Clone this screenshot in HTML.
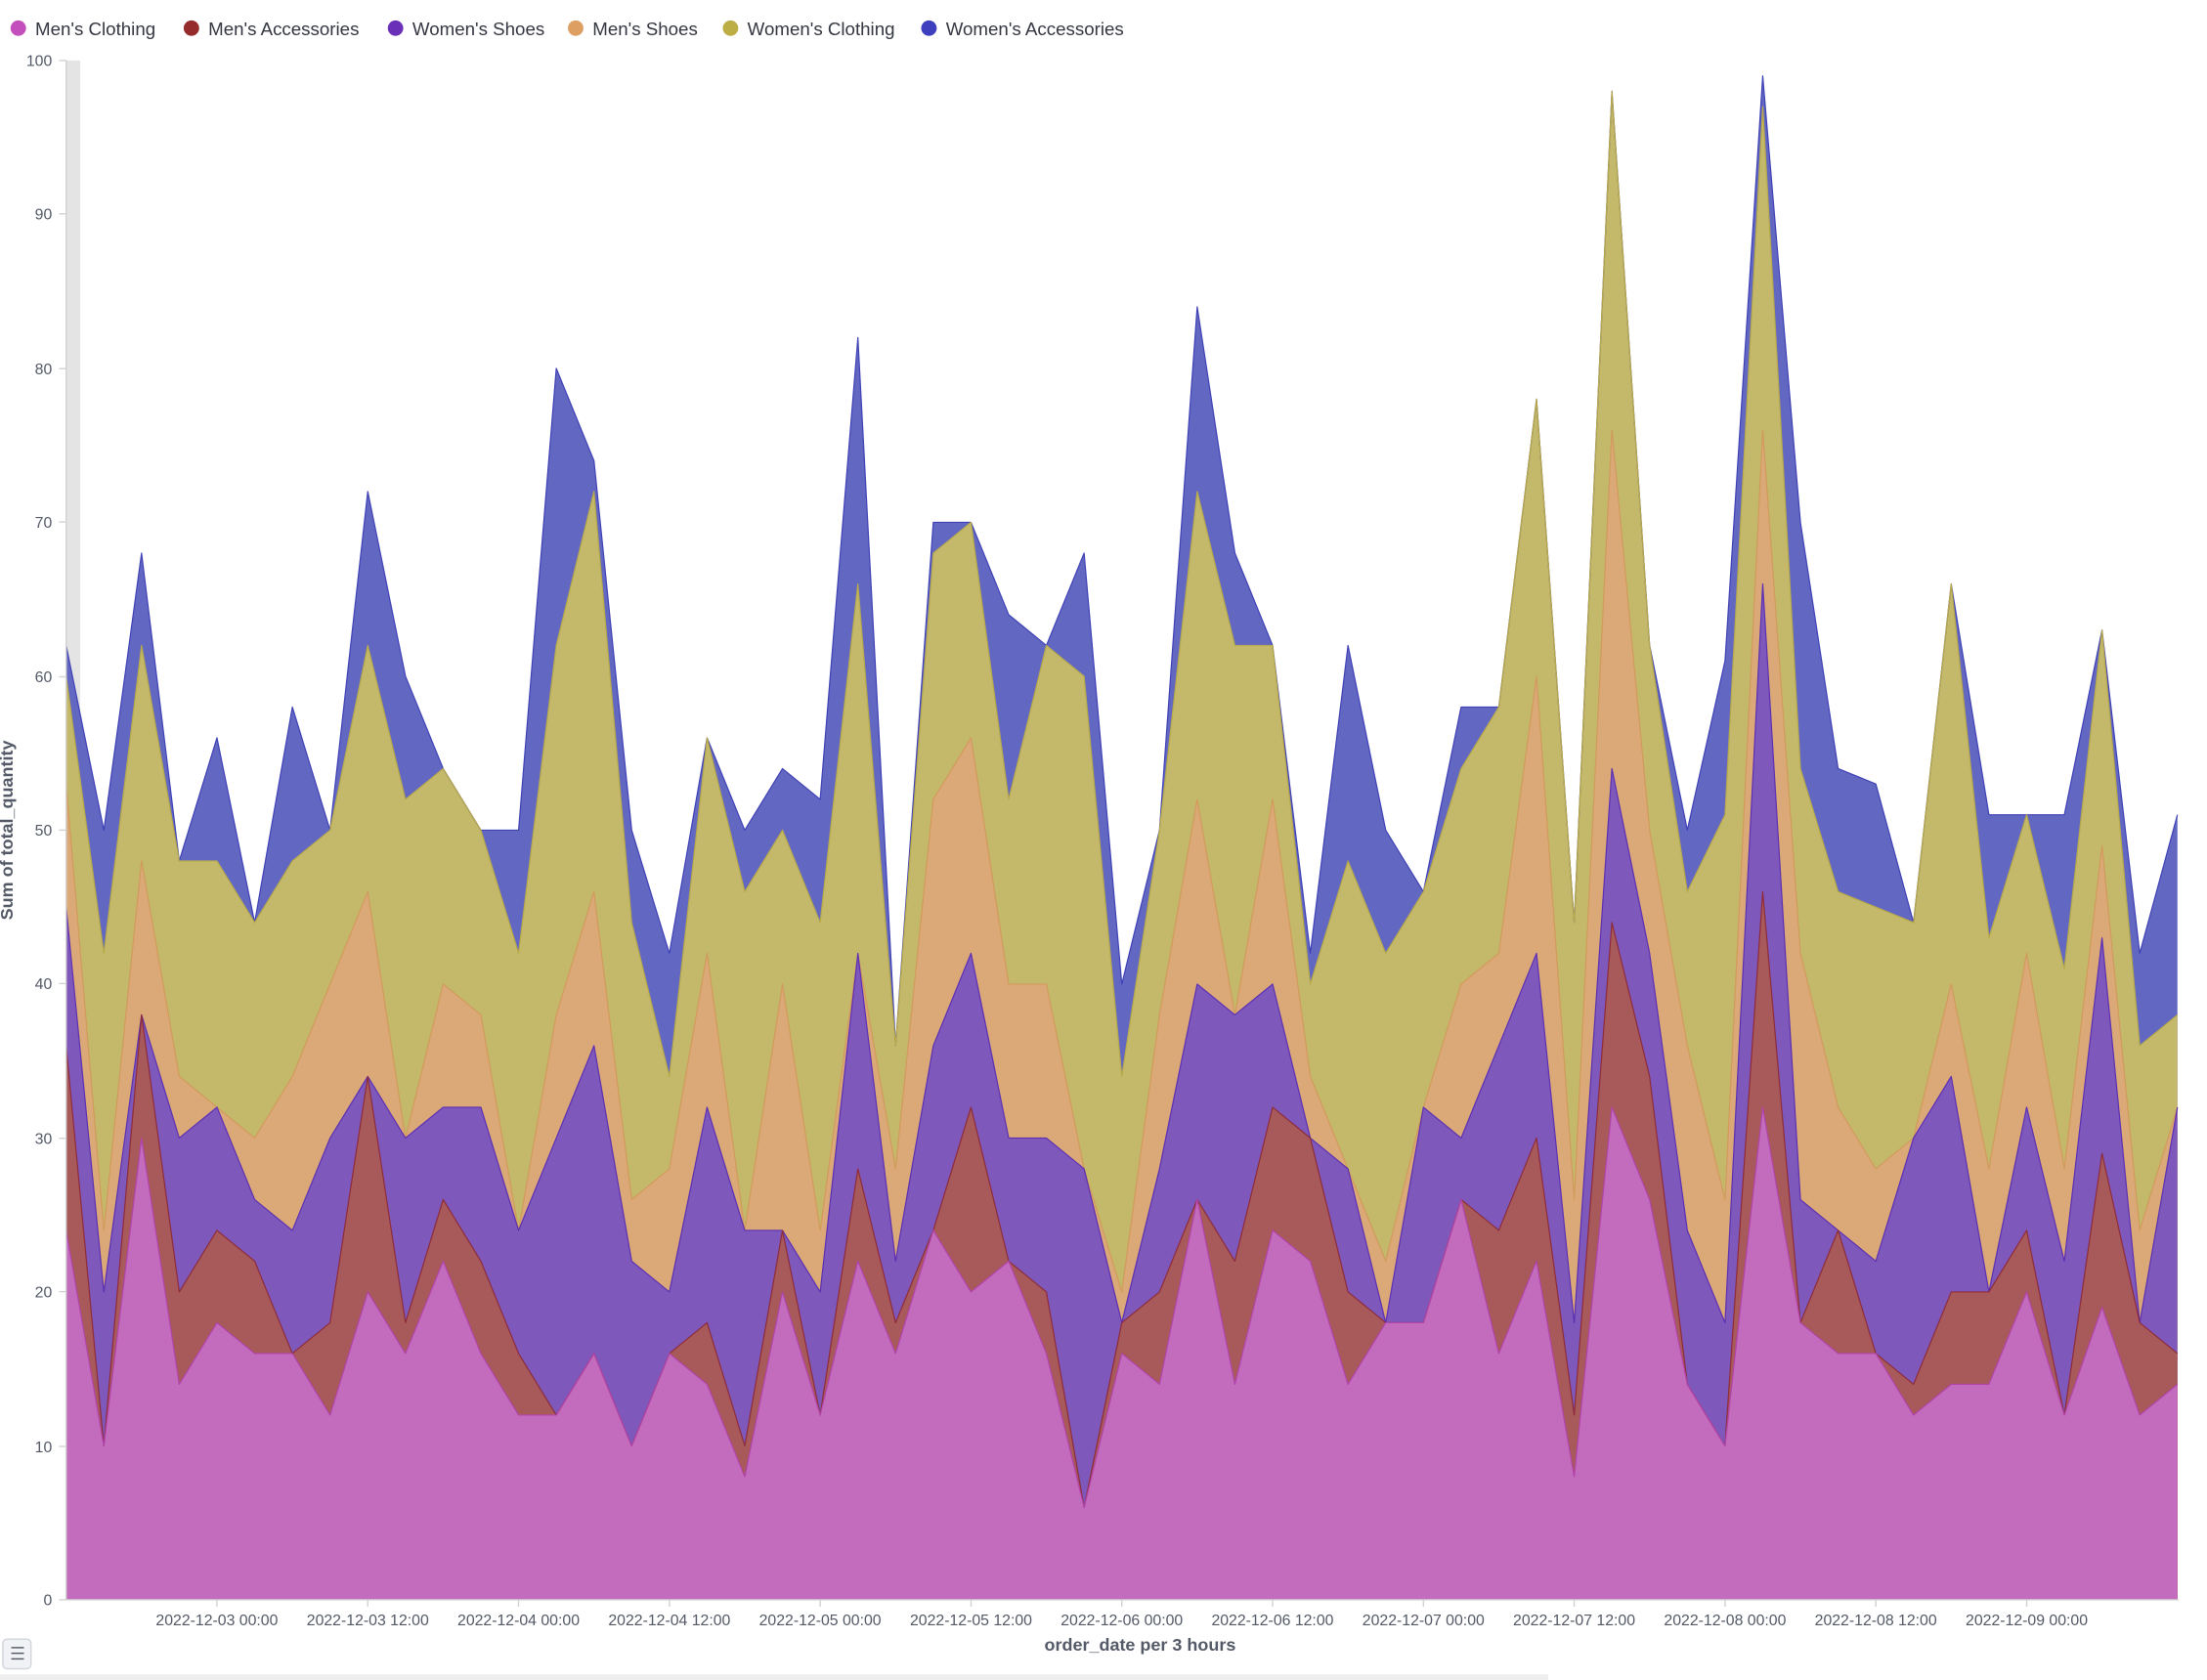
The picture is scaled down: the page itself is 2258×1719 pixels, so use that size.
<!DOCTYPE html>
<html><head><meta charset="utf-8">
<style>
html,body{margin:0;padding:0;background:#fff;}
svg{display:block;font-family:"Liberation Sans",sans-serif;}
</style></head>
<body>
<svg width="2258" height="1719" viewBox="0 0 1568 1194" preserveAspectRatio="none" xmlns="http://www.w3.org/2000/svg">
<rect width="1568" height="1194" fill="#fff"/>
<rect x="47" y="43" width="10" height="1094" fill="#e4e4e4"/>
<g transform="translate(47,1137) scale(26.7857,-10.94)">
<polygon fill="#6268c2" points="0,62 1,50 2,68 3,48 4,56 5,44 6,58 7,50 8,72 9,60 10,54 11,50 12,50 13,80 14,74 15,50 16,42 17,56 18,50 19,54 20,52 21,82 22,36 23,70 24,70 25,64 26,62 27,68 28,40 29,50 30,84 31,68 32,62 33,42 34,62 35,50 36,46 37,58 38,58 39,78 40,44 41,98 42,62 43,50 44,61 45,99 46,70 47,54 48,53 49,44 50,66 51,51 52,51 53,51 54,63 55,42 56,51 56,0 0,0"/>
<polygon fill="#c4b86a" points="0,60 1,42 2,62 3,48 4,48 5,44 6,48 7,50 8,62 9,52 10,54 11,50 12,42 13,62 14,72 15,44 16,34 17,56 18,46 19,50 20,44 21,66 22,36 23,68 24,70 25,52 26,62 27,60 28,34 29,50 30,72 31,62 32,62 33,40 34,48 35,42 36,46 37,54 38,58 39,78 40,44 41,98 42,62 43,46 44,51 45,97 46,54 47,46 48,45 49,44 50,66 51,43 52,51 53,41 54,63 55,36 56,38 56,0 0,0"/>
<polygon fill="#dba977" points="0,53 1,24 2,48 3,34 4,32 5,30 6,34 7,40 8,46 9,30 10,40 11,38 12,24 13,38 14,46 15,26 16,28 17,42 18,24 19,40 20,24 21,42 22,28 23,52 24,56 25,40 26,40 27,28 28,20 29,38 30,52 31,38 32,52 33,34 34,28 35,22 36,32 37,40 38,42 39,60 40,26 41,76 42,50 43,36 44,26 45,76 46,42 47,32 48,28 49,30 50,40 51,28 52,42 53,28 54,49 55,24 56,32 56,0 0,0"/>
<polygon fill="#7e58bb" points="0,45 1,20 2,38 3,30 4,32 5,26 6,24 7,30 8,34 9,30 10,32 11,32 12,24 13,30 14,36 15,22 16,20 17,32 18,24 19,24 20,20 21,42 22,22 23,36 24,42 25,30 26,30 27,28 28,18 29,28 30,40 31,38 32,40 33,30 34,28 35,18 36,32 37,30 38,36 39,42 40,18 41,54 42,42 43,24 44,18 45,66 46,26 47,24 48,22 49,30 50,34 51,20 52,32 53,22 54,43 55,18 56,32 56,0 0,0"/>
<polygon fill="#a8595a" points="0,36 1,10 2,38 3,20 4,24 5,22 6,16 7,18 8,34 9,18 10,26 11,22 12,16 13,12 14,16 15,10 16,16 17,18 18,10 19,24 20,12 21,28 22,18 23,24 24,32 25,22 26,20 27,6 28,18 29,20 30,26 31,22 32,32 33,30 34,20 35,18 36,18 37,26 38,24 39,30 40,12 41,44 42,34 43,14 44,10 45,46 46,18 47,24 48,16 49,14 50,20 51,20 52,24 53,12 54,29 55,18 56,16 56,0 0,0"/>
<polygon fill="#c36bbd" points="0,24 1,10 2,30 3,14 4,18 5,16 6,16 7,12 8,20 9,16 10,22 11,16 12,12 13,12 14,16 15,10 16,16 17,14 18,8 19,20 20,12 21,22 22,16 23,24 24,20 25,22 26,16 27,6 28,16 29,14 30,26 31,14 32,24 33,22 34,14 35,18 36,18 37,26 38,16 39,22 40,8 41,32 42,26 43,14 44,10 45,32 46,18 47,16 48,16 49,12 50,14 51,14 52,20 53,12 54,19 55,12 56,14 56,0 0,0"/>
<g fill="none" stroke-width="1.2" stroke-linejoin="round">
<polyline vector-effect="non-scaling-stroke" stroke="#3f41b5" points="0,62 1,50 2,68 3,48 4,56 5,44 6,58 7,50 8,72 9,60 10,54 11,50 12,50 13,80 14,74 15,50 16,42 17,56 18,50 19,54 20,52 21,82 22,36 23,70 24,70 25,64 26,62 27,68 28,40 29,50 30,84 31,68 32,62 33,42 34,62 35,50 36,46 37,58 38,58 39,78 40,44 41,98 42,62 43,50 44,61 45,99 46,70 47,54 48,53 49,44 50,66 51,51 52,51 53,51 54,63 55,42 56,51"/>
<polyline vector-effect="non-scaling-stroke" stroke="#b8aa4a" points="0,60 1,42 2,62 3,48 4,48 5,44 6,48 7,50 8,62 9,52 10,54 11,50 12,42 13,62 14,72 15,44 16,34 17,56 18,46 19,50 20,44 21,66 22,36 23,68 24,70 25,52 26,62 27,60 28,34 29,50 30,72 31,62 32,62 33,40 34,48 35,42 36,46 37,54 38,58 39,78 40,44 41,98 42,62 43,46 44,51 45,97 46,54 47,46 48,45 49,44 50,66 51,43 52,51 53,41 54,63 55,36 56,38"/>
<polyline vector-effect="non-scaling-stroke" stroke="#d29a5c" points="0,53 1,24 2,48 3,34 4,32 5,30 6,34 7,40 8,46 9,30 10,40 11,38 12,24 13,38 14,46 15,26 16,28 17,42 18,24 19,40 20,24 21,42 22,28 23,52 24,56 25,40 26,40 27,28 28,20 29,38 30,52 31,38 32,52 33,34 34,28 35,22 36,32 37,40 38,42 39,60 40,26 41,76 42,50 43,36 44,26 45,76 46,42 47,32 48,28 49,30 50,40 51,28 52,42 53,28 54,49 55,24 56,32"/>
<polyline vector-effect="non-scaling-stroke" stroke="#5b30b3" points="0,45 1,20 2,38 3,30 4,32 5,26 6,24 7,30 8,34 9,30 10,32 11,32 12,24 13,30 14,36 15,22 16,20 17,32 18,24 19,24 20,20 21,42 22,22 23,36 24,42 25,30 26,30 27,28 28,18 29,28 30,40 31,38 32,40 33,30 34,28 35,18 36,32 37,30 38,36 39,42 40,18 41,54 42,42 43,24 44,18 45,66 46,26 47,24 48,22 49,30 50,34 51,20 52,32 53,22 54,43 55,18 56,32"/>
<polyline vector-effect="non-scaling-stroke" stroke="#8e2c3a" points="0,36 1,10 2,38 3,20 4,24 5,22 6,16 7,18 8,34 9,18 10,26 11,22 12,16 13,12 14,16 15,10 16,16 17,18 18,10 19,24 20,12 21,28 22,18 23,24 24,32 25,22 26,20 27,6 28,18 29,20 30,26 31,22 32,32 33,30 34,20 35,18 36,18 37,26 38,24 39,30 40,12 41,44 42,34 43,14 44,10 45,46 46,18 47,24 48,16 49,14 50,20 51,20 52,24 53,12 54,29 55,18 56,16"/>
<polyline vector-effect="non-scaling-stroke" stroke="#b144aa" points="0,24 1,10 2,30 3,14 4,18 5,16 6,16 7,12 8,20 9,16 10,22 11,16 12,12 13,12 14,16 15,10 16,16 17,14 18,8 19,20 20,12 21,22 22,16 23,24 24,20 25,22 26,16 27,6 28,16 29,14 30,26 31,14 32,24 33,22 34,14 35,18 36,18 37,26 38,16 39,22 40,8 41,32 42,26 43,14 44,10 45,32 46,18 47,16 48,16 49,12 50,14 51,14 52,20 53,12 54,19 55,12 56,14"/>
</g>
</g>
<line x1="47" y1="43" x2="47" y2="1137" stroke="#d3d3d3" stroke-width="1"/>
<line x1="47" y1="1137" x2="1548" y2="1137" stroke="#d3d3d3" stroke-width="1"/>
<g font-size="11" fill="#535966" text-anchor="end">
<text x="37" y="1141">0</text><text x="37" y="1032">10</text><text x="37" y="922">20</text><text x="37" y="813">30</text><text x="37" y="703">40</text><text x="37" y="594">50</text><text x="37" y="485">60</text><text x="37" y="375">70</text><text x="37" y="266">80</text><text x="37" y="156">90</text><text x="37" y="47">100</text>
</g>
<g stroke="#d3d3d3">
<line x1="42" y1="1137" x2="47" y2="1137"/><line x1="42" y1="1028" x2="47" y2="1028"/><line x1="42" y1="918" x2="47" y2="918"/><line x1="42" y1="809" x2="47" y2="809"/><line x1="42" y1="699" x2="47" y2="699"/><line x1="42" y1="590" x2="47" y2="590"/><line x1="42" y1="481" x2="47" y2="481"/><line x1="42" y1="371" x2="47" y2="371"/><line x1="42" y1="262" x2="47" y2="262"/><line x1="42" y1="152" x2="47" y2="152"/><line x1="42" y1="43" x2="47" y2="43"/>
<line x1="154.1" y1="1137" x2="154.1" y2="1142"/><line x1="261.3" y1="1137" x2="261.3" y2="1142"/><line x1="368.4" y1="1137" x2="368.4" y2="1142"/><line x1="475.6" y1="1137" x2="475.6" y2="1142"/><line x1="582.7" y1="1137" x2="582.7" y2="1142"/><line x1="689.9" y1="1137" x2="689.9" y2="1142"/><line x1="797" y1="1137" x2="797" y2="1142"/><line x1="904.1" y1="1137" x2="904.1" y2="1142"/><line x1="1011.3" y1="1137" x2="1011.3" y2="1142"/><line x1="1118.4" y1="1137" x2="1118.4" y2="1142"/><line x1="1225.6" y1="1137" x2="1225.6" y2="1142"/><line x1="1332.7" y1="1137" x2="1332.7" y2="1142"/><line x1="1439.9" y1="1137" x2="1439.9" y2="1142"/>
</g>
<g font-size="11" fill="#535966" text-anchor="middle">
<text x="154.1" y="1155">2022-12-03 00:00</text><text x="261.3" y="1155">2022-12-03 12:00</text><text x="368.4" y="1155">2022-12-04 00:00</text><text x="475.6" y="1155">2022-12-04 12:00</text><text x="582.7" y="1155">2022-12-05 00:00</text><text x="689.9" y="1155">2022-12-05 12:00</text><text x="797" y="1155">2022-12-06 00:00</text><text x="904.1" y="1155">2022-12-06 12:00</text><text x="1011.3" y="1155">2022-12-07 00:00</text><text x="1118.4" y="1155">2022-12-07 12:00</text><text x="1225.6" y="1155">2022-12-08 00:00</text><text x="1332.7" y="1155">2022-12-08 12:00</text><text x="1439.9" y="1155">2022-12-09 00:00</text>
</g>
<text x="810" y="1173" font-size="12.5" font-weight="bold" fill="#535966" text-anchor="middle">order_date per 3 hours</text>
<text transform="translate(9,590) rotate(-90)" font-size="12.5" font-weight="bold" fill="#535966" text-anchor="middle">Sum of total_quantity</text>
<g font-size="13" fill="#343741">
<circle cx="13" cy="20" r="5.5" fill="#c34fbd"/><text x="25" y="25">Men's Clothing</text>
<circle cx="136" cy="20" r="5.5" fill="#952b2b"/><text x="148" y="25">Men's Accessories</text>
<circle cx="281" cy="20" r="5.5" fill="#6a30b8"/><text x="293" y="25">Women's Shoes</text>
<circle cx="409" cy="20" r="5.5" fill="#de9f63"/><text x="421" y="25">Men's Shoes</text>
<circle cx="519" cy="20" r="5.5" fill="#bcad45"/><text x="531" y="25">Women's Clothing</text>
<circle cx="660" cy="20" r="5.5" fill="#3e3fbf"/><text x="672" y="25">Women's Accessories</text>
</g>
<rect x="2" y="1165" width="20" height="21" rx="3" fill="#f1f2f5" stroke="#d3d6dc"/>
<g stroke="#535966" stroke-width="1"><line x1="8" y1="1171" x2="17" y2="1171"/><line x1="8" y1="1175" x2="17" y2="1175"/><line x1="8" y1="1179" x2="17" y2="1179"/></g>
<rect x="0" y="1190" width="1100" height="4" fill="#eeeeee"/>
</svg>
</body></html>
